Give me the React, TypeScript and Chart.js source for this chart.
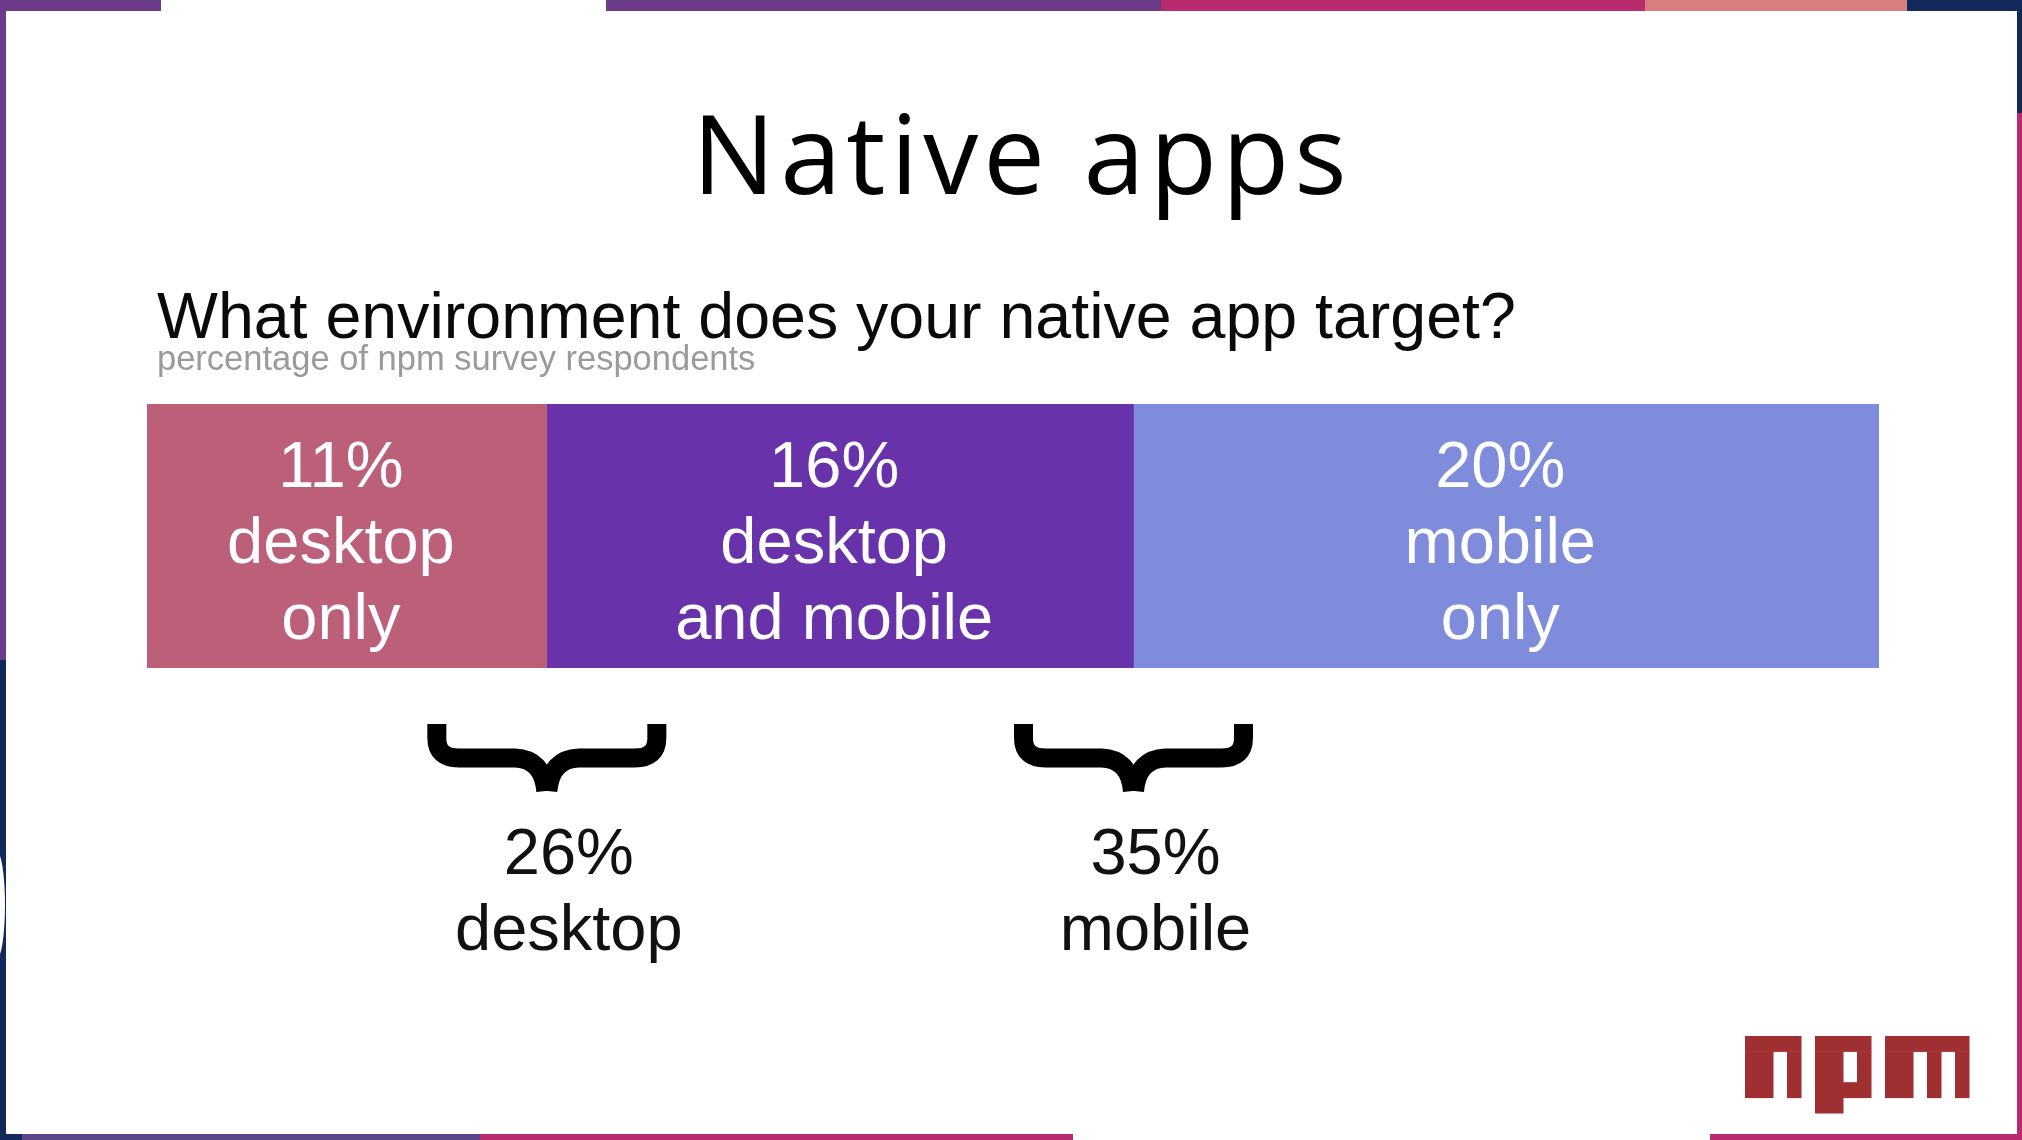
import React, { useEffect, useRef } from "react";
import { Chart, registerables } from "chart.js";

Chart.register(...registerables);

// ---- data ----
const categories = ["What environment does your native app target?"];
const segmentNames = ["desktop only", "desktop and mobile", "mobile only"];
const segmentValues = [10.85, 15.92, 20.23];
const segmentLines = [
  ["desktop", "only"],
  ["desktop", "and mobile"],
  ["mobile", "only"],
];
const groupNames = ["desktop", "mobile"];
const groupValues = [26, 35];
const groupAfterSegment = [1, 2]; // brace centred after this many segments

const titleText = "Native apps";
const questionText = "What environment does your native app target?";
const noteText = "percentage of npm survey respondents";

// ---- styles ----
const segmentColors = ["#bc5f78", "#6732aa", "#7f8bdb"];
const W = 2022;
const H = 1140;

const framePlugin = {
  id: "frame",
  beforeDraw(chart: any) {
    const ctx = chart.ctx as CanvasRenderingContext2D;
    ctx.save();
    const top: [number, number, string][] = [
      [0, 161, "#6b3a89"],
      [161, 606, "#ffffff"],
      [606, 1161, "#6b3a89"],
      [1161, 1645, "#b92b6f"],
      [1645, 1907, "#d87e7f"],
      [1907, W, "#14295b"],
    ];
    top.forEach(([a, b, c]) => {
      ctx.fillStyle = c;
      ctx.fillRect(a, 0, b - a, 11);
    });
    ctx.fillStyle = "#6b3a89";
    ctx.fillRect(0, 0, 6, 660);
    ctx.fillStyle = "#14295b";
    ctx.fillRect(0, 660, 6, H - 660);
    ctx.fillStyle = "#14295b";
    ctx.fillRect(2017, 0, 5, 113);
    ctx.fillStyle = "#b92b6f";
    ctx.fillRect(2017, 113, 5, H - 113);
    const bottom: [number, number, string][] = [
      [0, 22, "#14295b"],
      [22, 480, "#5b4687"],
      [480, 1073, "#b92b6f"],
      [1073, 1710, "#ffffff"],
      [1710, W, "#b92b6f"],
    ];
    bottom.forEach(([a, b, c]) => {
      ctx.fillStyle = c;
      ctx.fillRect(a, 1134, b - a, 6);
    });
    ctx.fillStyle = "#ffffff";
    ctx.fillRect(6, 11, 2011, 1123);
    // faint white arc on the left edge
    ctx.beginPath();
    ctx.ellipse(-4, 905, 9, 55, 0, 0, Math.PI * 2);
    ctx.fill();
    ctx.restore();
  },
};

const textPlugin = {
  id: "slideText",
  afterDraw(chart: any) {
    const ctx = chart.ctx as CanvasRenderingContext2D;
    const xs = chart.scales.x;
    ctx.save();

    // title
    ctx.fillStyle = "#000000";
    ctx.textAlign = "center";
    ctx.textBaseline = "alphabetic";
    ctx.font = '400 110px "Open Sans"';
    (ctx as any).letterSpacing = "5px";
    ctx.fillText(titleText, 1022, 194);
    (ctx as any).letterSpacing = "0px";

    // question
    ctx.textAlign = "left";
    ctx.font = '400 64.5px "Liberation Sans"';
    ctx.fillStyle = "#0a0a0a";
    ctx.fillText(questionText, 157, 338);
    ctx.font = '400 34.5px "Liberation Sans"';
    ctx.fillStyle = "#9a9a9a";
    ctx.fillText(noteText, 157, 370);

    // segment labels
    ctx.textAlign = "center";
    ctx.font = '400 65px "Liberation Sans"';
    ctx.fillStyle = "#ffffff";
    chart.data.datasets.forEach((ds: any, i: number) => {
      const meta = chart.getDatasetMeta(i);
      const el = meta.data[0] as any;
      if (!el) return;
      const cx = (el.x + el.base) / 2 - 6;
      const cy = el.y;
      const lines = [`${Math.round(ds.data[0])}%`, ...segmentLines[i]];
      lines.forEach((ln, k) => {
        ctx.fillText(ln, cx, cy - 49 + k * 76);
      });
    });

    // braces and group labels
    groupNames.forEach((name, g) => {
      let cum = 0;
      for (let k = 0; k < groupAfterSegment[g]; k++) cum += segmentValues[k];
      const cx = xs.getPixelForValue(cum);
      ctx.strokeStyle = "#000000";
      ctx.lineWidth = 19;
      ctx.lineCap = "butt";
      ctx.lineJoin = "round";
      [-1, 1].forEach((s) => {
        ctx.beginPath();
        ctx.moveTo(cx + s * 110, 724);
        ctx.lineTo(cx + s * 110, 738);
        ctx.quadraticCurveTo(cx + s * 110, 758, cx + s * 88, 758);
        ctx.lineTo(cx + s * 32, 758);
        ctx.quadraticCurveTo(cx + s * 4, 759, cx + s * 1, 791);
        ctx.stroke();
      });
      ctx.fillStyle = "#111111";
      ctx.font = '400 65px "Liberation Sans"';
      ctx.textAlign = "center";
      ctx.fillText(`${groupValues[g]}%`, cx + 22, 874);
      ctx.fillText(name, cx + 22, 950);
    });

    // npm logo
    const ox = 1745;
    const oy = 1036;
    const ux = 14;
    const uy = 15.4;
    const rects: [number, number, number, number][] = [
      [0, 0, 4, 1], [0, 1, 2, 3], [3, 1, 1, 3],
      [5, 0, 4, 1], [5, 1, 2, 4], [8, 1, 1, 3], [7, 3, 1, 1],
      [10, 0, 6, 1], [10, 1, 2, 3], [13, 1, 1, 3], [15, 1, 1, 3],
    ];
    ctx.fillStyle = "#a02f31";
    rects.forEach(([x, y, w, h]) => {
      ctx.fillRect(ox + x * ux, oy + y * uy, w * ux + 0.5, h * uy + 0.5);
    });

    ctx.restore();
  },
};

export default function App() {
  const ref = useRef<HTMLCanvasElement | null>(null);
  useEffect(() => {
    document.body.style.margin = "0";
    const canvas = ref.current;
    if (!canvas) return;
    const total = segmentValues.reduce((a, b) => a + b, 0);
    const chart = new Chart(canvas, {
      type: "bar",
      data: {
        labels: categories,
        datasets: segmentNames.map((name, i) => ({
          label: name,
          data: [segmentValues[i]],
          backgroundColor: segmentColors[i],
          borderWidth: 0,
          barPercentage: 1,
          categoryPercentage: 1,
        })),
      },
      options: {
        indexAxis: "y",
        responsive: false,
        animation: false,
        devicePixelRatio: 1,
        layout: { padding: { left: 147, right: 143, top: 404, bottom: 472 } },
        scales: {
          x: { stacked: true, display: false, min: 0, max: total },
          y: { stacked: true, display: false },
        },
        plugins: {
          legend: { display: false },
          tooltip: { enabled: false },
          title: { display: false },
        },
      },
      plugins: [framePlugin, textPlugin],
    });
    return () => chart.destroy();
  }, []);
  return (
    <div style={{ position: "fixed", left: 0, top: 0, width: W, height: H }}>
      <canvas ref={ref} width={W} height={H} style={{ width: W, height: H, display: "block" }} />
    </div>
  );
}
